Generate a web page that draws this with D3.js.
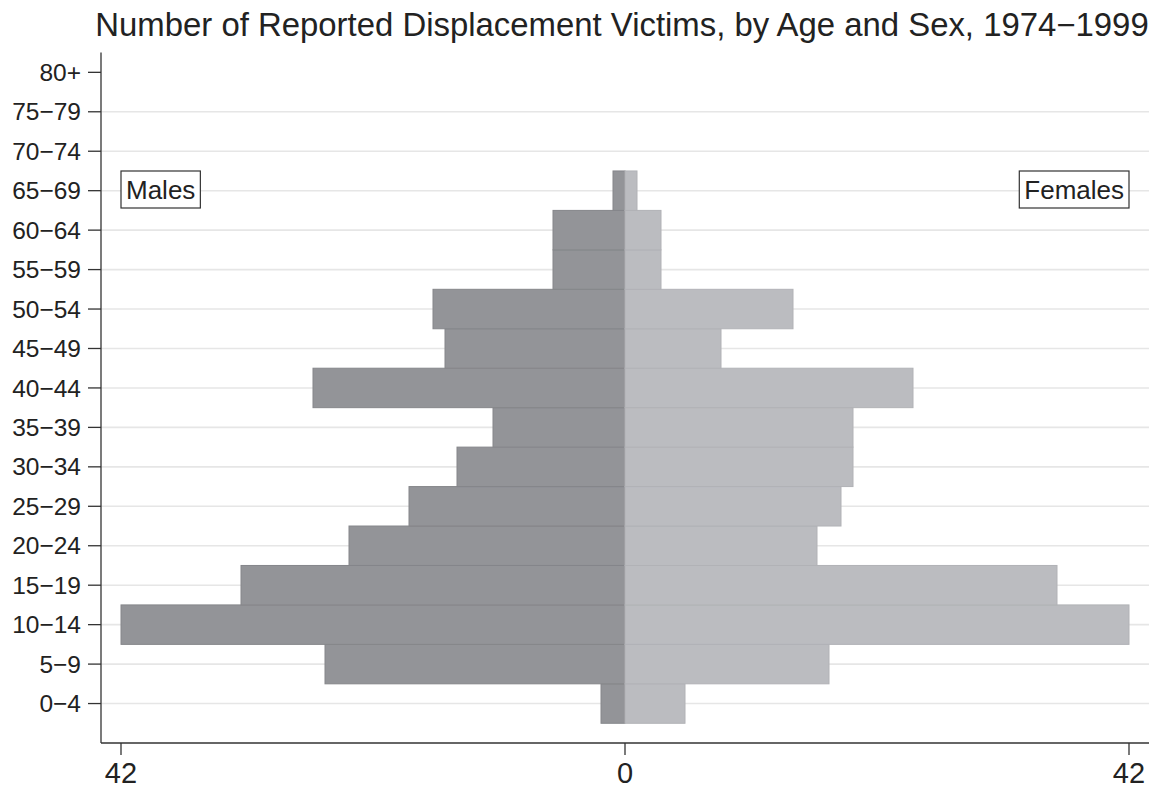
<!DOCTYPE html>
<html><head><meta charset="utf-8">
<script src="https://cdn.jsdelivr.net/npm/d3@7"></script>
<style>body{margin:0;background:#fff}svg{display:block}text{font-family:"Liberation Sans",Arial,sans-serif;fill:#222}</style>
</head><body>
<script>
const ageGroups = ["0−4","5−9","10−14","15−19","20−24","25−29","30−34","35−39","40−44","45−49","50−54","55−59","60−64","65−69","70−74","75−79","80+"];
const males   = [2,25,42,32,23,18,14,11,26,15,16,6,6,1,0,0,0];
const females = [5,17,42,36,16,18,19,19,24,8,14,3,3,1,0,0,0];
const xTickValues = [-42,0,42];
const xTickLabels = ["42","0","42"];
const title = "Number of Reported Displacement Victims, by Age and Sex, 1974−1999";

(function(){
const W=1171,H=789;
const svg=d3.select("body").append("svg").attr("width",W).attr("height",H);
const pL=101,pR=1149,pT=52.6,pB=743;
const x=d3.scaleLinear().domain([-42,42]).range([121,1129]);
const y=d3.scaleLinear().domain([-1,16.5]).range([pB,pT]);

// gridlines
svg.append("g").selectAll("line").data(ageGroups.map((d,i)=>i).filter(i=>i<16)).join("line")
  .attr("x1",pL).attr("x2",pR).attr("y1",d=>y(d)).attr("y2",d=>y(d))
  .attr("stroke","#e6e6e6").attr("stroke-width",1.6);

// bars
const data=ageGroups.map((g,i)=>({g,i,m:males[i],f:females[i]}));
svg.append("g").selectAll("rect").data(data.filter(d=>d.m>0)).join("rect")
  .attr("x",d=>x(-d.m)).attr("width",d=>x(0)-x(-d.m))
  .attr("y",d=>y(d.i+0.5)).attr("height",d=>y(d.i-0.5)-y(d.i+0.5))
  .attr("fill","#939498").attr("stroke","#85868a").attr("stroke-width",1);
svg.append("g").selectAll("rect").data(data.filter(d=>d.f>0)).join("rect")
  .attr("x",x(0)).attr("width",d=>x(d.f)-x(0))
  .attr("y",d=>y(d.i+0.5)).attr("height",d=>y(d.i-0.5)-y(d.i+0.5))
  .attr("fill","#bbbcc0").attr("stroke","#b1b2b6").attr("stroke-width",1);

// axes
const ax=svg.append("g").attr("stroke","#333").attr("stroke-width",1.3);
ax.append("line").attr("x1",pL).attr("x2",pL).attr("y1",pT).attr("y2",pB);
ax.append("line").attr("x1",pL).attr("x2",pR).attr("y1",pB).attr("y2",pB);
ageGroups.forEach((g,i)=>{
  ax.append("line").attr("x1",88).attr("x2",pL).attr("y1",y(i)).attr("y2",y(i));
});
xTickValues.forEach(v=>{
  ax.append("line").attr("x1",x(v)).attr("x2",x(v)).attr("y1",pB).attr("y2",pB+12);
});
svg.append("g").selectAll("text").data(ageGroups).join("text")
  .attr("x",81).attr("y",(d,i)=>y(i)).attr("dy","0.35em").attr("text-anchor","end")
  .attr("font-size",24.5).text(d=>d);
svg.append("g").selectAll("text").data(xTickValues).join("text")
  .attr("x",d=>x(d)).attr("y",783).attr("text-anchor","middle")
  .attr("font-size",29).text((d,i)=>xTickLabels[i]);

// title
svg.append("text").attr("x",622).attr("y",36).attr("text-anchor","middle")
  .attr("font-size",32.9).text(title);

// legend boxes
function box(txt,x0,anchorRight){
  const g=svg.append("g");
  const r=g.append("rect");
  const t=g.append("text").attr("font-size",26).attr("y",199).text(txt);
  const w=t.node().getComputedTextLength();
  const bx = anchorRight ? x0-w-10 : x0;
  t.attr("x",bx+5);
  r.attr("x",bx).attr("y",171).attr("width",w+10).attr("height",37)
    .attr("fill","#fff").attr("stroke","#333").attr("stroke-width",1.2);
}
box("Males",121,false);
box("Females",1129,true);
})();
</script>
</body></html>
